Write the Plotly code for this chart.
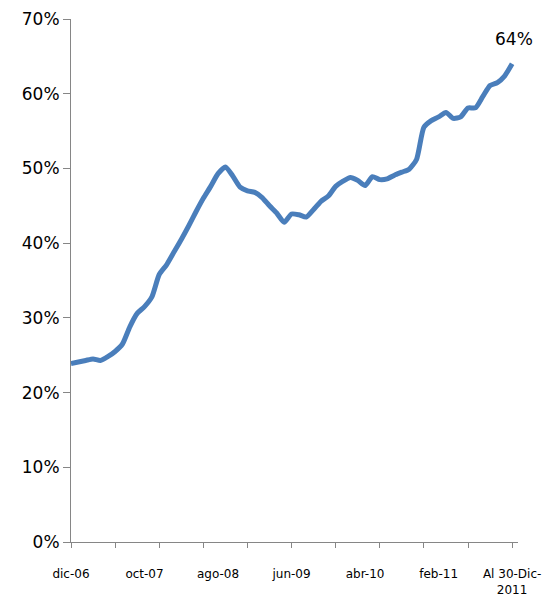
import plotly.graph_objects as go

# monthly categories, dic-06 .. dic-11
months = ['ene', 'feb', 'mar', 'abr', 'may', 'jun', 'jul', 'ago', 'sep', 'oct', 'nov', 'dic']
categories = ['dic-06'] + ['%s-%02d' % (m, y) for y in range(7, 12) for m in months][:-1] + ['Al 30-Dic-2011']

values = [23.9, 24.1, 24.3, 24.5, 24.3, 24.8, 25.5, 26.5, 28.8, 30.6,
          31.5, 32.8, 35.8, 37.1, 38.8, 40.5, 42.3, 44.2, 46.0, 47.6,
          49.3, 50.2, 49.0, 47.5, 47.0, 46.8, 46.1, 45.0, 44.0, 42.8,
          43.9, 43.8, 43.5, 44.5, 45.6, 46.3, 47.6, 48.3, 48.8, 48.4,
          47.7, 48.9, 48.5, 48.6, 49.1, 49.5, 49.9, 51.2, 55.5, 56.4,
          56.9, 57.5, 56.7, 56.9, 58.1, 58.1, 59.6, 61.1, 61.5, 62.4,
          64.0]

label_every = 10
tick_every = 6

x = list(range(len(values)))
label_pos = x[::label_every]
label_text = [categories[i] for i in label_pos]
label_text[-1] = 'Al 30-Dic-<br>2011'

FONT = 'DejaVu Sans'
GREY = '#868686'

fig = go.Figure()
fig.add_trace(go.Scatter(
    x=x, y=[v / 100 for v in values],
    mode='lines',
    line=dict(color='#4A7EBB', width=5, shape='spline', smoothing=0.6),
    hoverinfo='skip', showlegend=False))

fig.add_annotation(
    x=x[-1], y=values[-1] / 100, text='%d%%' % round(values[-1]),
    showarrow=False, yshift=25, xshift=2,
    font=dict(family=FONT, size=17, color='#000000'))

# page body adds an 8px margin, so the figure is 8px smaller than the window
fig.update_layout(
    width=546, height=589,
    margin=dict(l=63, r=36, t=11, b=55),
    plot_bgcolor='white', paper_bgcolor='white',
    font=dict(family=FONT, color='#000000'),
    xaxis=dict(
        range=[0, 60.8], showgrid=False, zeroline=False, automargin=False,
        showline=True, linecolor=GREY, linewidth=1,
        tickmode='array', tickvals=label_pos, ticktext=label_text,
        ticks='outside', ticklen=5, tickcolor='rgba(0,0,0,0)',
        ticklabelstandoff=16,
        tickfont=dict(family=FONT, size=12),
        minor=dict(ticks='outside', ticklen=5, tickcolor=GREY,
                   tick0=0, dtick=tick_every, showgrid=False)),
    yaxis=dict(
        range=[0, 0.70], dtick=0.1, tickformat='.0%',
        showgrid=False, zeroline=False, automargin=False,
        showline=True, linecolor=GREY, linewidth=1,
        ticks='outside', ticklen=7, tickcolor=GREY,
        tickfont=dict(family=FONT, size=17)))

fig.write_html('out.html')
